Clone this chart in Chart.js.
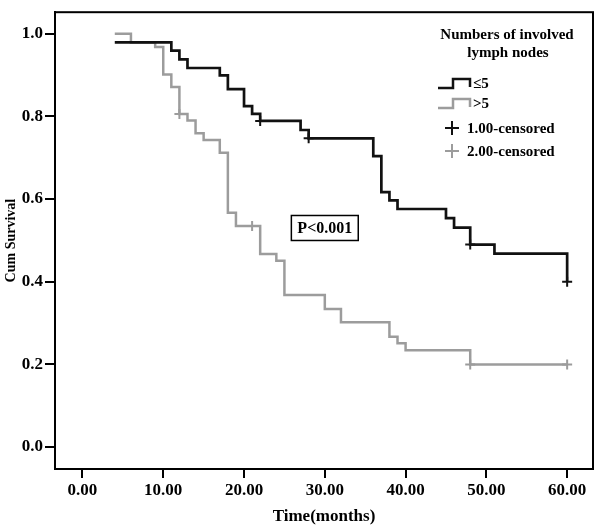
<!DOCTYPE html>
<html>
<head>
<meta charset="utf-8">
<script src="https://cdn.jsdelivr.net/npm/chart.js@4.4.1/dist/chart.umd.min.js"></script>
<style>
  html, body { margin: 0; padding: 0; background: #fff; }
  #wrap { width: 600px; height: 531px; }
</style>
</head>
<body>
<div id="wrap"><canvas id="kmChart" width="600" height="531"></canvas></div>
<script>
// ── data ──
// group 1 (≤5 nodes): month where the step starts and survival after it
const monthsLow = [4, 11, 12, 13, 17, 18, 20, 21, 22, 27, 28, 36, 37, 38, 39, 45, 46, 48, 51, 60];
const survivalLow = [0.979, 0.959, 0.938, 0.917, 0.899, 0.866, 0.825, 0.806, 0.789, 0.767, 0.747, 0.704, 0.617, 0.597, 0.576, 0.554, 0.531, 0.490, 0.468, 0.400];
const censorMonthsLow = [22, 28, 48, 60];
const censorSurvLow = [0.789, 0.747, 0.490, 0.400];

// group 2 (>5 nodes)
const monthsHigh = [4, 6, 9, 10, 11, 12, 13, 14, 15, 17, 18, 19, 22, 24, 25, 30, 32, 38, 39, 40, 48, 60];
const survivalHigh = [1.0, 0.979, 0.968, 0.901, 0.871, 0.806, 0.790, 0.759, 0.743, 0.712, 0.567, 0.535, 0.467, 0.451, 0.368, 0.334, 0.302, 0.267, 0.251, 0.234, 0.200, 0.200];
const censorMonthsHigh = [12, 21, 48, 60];
const censorSurvHigh = [0.806, 0.535, 0.200, 0.200];

const xTicks = [0, 10, 20, 30, 40, 50, 60];
const yTicks = [0, 0.2, 0.4, 0.6, 0.8, 1.0];
const legendTitle = ['Numbers of involved', 'lymph nodes'];
const legendLabels = ['≤5', '>5', '1.00-censored', '2.00-censored'];
const pValueText = 'P<0.001';

const BLACK = '#111111';
const GRAY = '#9c9c9c';
const SERIF = '"Liberation Serif", "DejaVu Serif", serif';

const toPoints = (xs, ys) => xs.map((x, i) => ({ x: x, y: ys[i] }));

// frame + p-value box + legend
const decorPlugin = {
  id: 'decor',
  afterDraw(chart) {
    const { ctx, chartArea: { left, right, top, bottom } } = chart;
    const xs = chart.scales.x, ys = chart.scales.y;
    ctx.save();

    // box around the plot
    ctx.strokeStyle = '#000';
    ctx.lineWidth = 2;
    ctx.strokeRect(left, top, right - left, bottom - top);

    // P value box
    const px = xs.getPixelForValue(30);
    const py = ys.getPixelForValue(0.53);
    ctx.font = 'bold 16px ' + SERIF;
    ctx.textAlign = 'center';
    ctx.textBaseline = 'middle';
    const w = ctx.measureText(pValueText).width + 12;
    ctx.lineWidth = 1.5;
    ctx.strokeRect(px - w / 2, py - 12.5, w, 25);
    ctx.fillStyle = '#000';
    ctx.fillText(pValueText, px, py + 1);

    // legend
    ctx.font = 'bold 15px ' + SERIF;
    ctx.fillText(legendTitle[0], 507, 35);
    ctx.fillText(legendTitle[1], 508, 53);

    const drawStep = (y, color) => {
      ctx.strokeStyle = color;
      ctx.lineWidth = 2.5;
      ctx.beginPath();
      ctx.moveTo(438, y + 5);
      ctx.lineTo(453, y + 5);
      ctx.lineTo(453, y - 4);
      ctx.lineTo(470, y - 4);
      ctx.lineTo(470, y + 4);
      ctx.stroke();
    };
    const drawCross = (y, color) => {
      ctx.strokeStyle = color;
      ctx.lineWidth = 2;
      ctx.beginPath();
      ctx.moveTo(445, y); ctx.lineTo(459, y);
      ctx.moveTo(452, y - 7); ctx.lineTo(452, y + 7);
      ctx.stroke();
    };
    drawStep(83, BLACK);
    drawStep(103, GRAY);
    drawCross(128, BLACK);
    drawCross(151, GRAY);

    ctx.textAlign = 'left';
    ctx.fillStyle = '#000';
    ctx.fillText(legendLabels[0], 473, 84);
    ctx.fillText(legendLabels[1], 473, 104);
    ctx.fillText(legendLabels[2], 467, 129);
    ctx.fillText(legendLabels[3], 467, 152);

    ctx.restore();
  }
};

const tickFont = { family: SERIF, size: 17, weight: 'bold' };

new Chart(document.getElementById('kmChart').getContext('2d'), {
  type: 'line',
  data: {
    datasets: [
      { data: toPoints(monthsLow, survivalLow), borderColor: BLACK, borderWidth: 2.7, stepped: 'before', pointRadius: 0, fill: false },
      { data: toPoints(monthsHigh, survivalHigh), borderColor: GRAY, borderWidth: 2.5, stepped: 'before', pointRadius: 0, fill: false },
      { type: 'scatter', data: toPoints(censorMonthsLow, censorSurvLow), pointStyle: 'cross', pointRadius: 5, borderColor: BLACK, borderWidth: 2 },
      { type: 'scatter', data: toPoints(censorMonthsHigh, censorSurvHigh), pointStyle: 'cross', pointRadius: 5, borderColor: GRAY, borderWidth: 2 }
    ]
  },
  options: {
    responsive: false,
    animation: false,
    layout: { padding: { top: 3, right: 4.5, left: 0, bottom: 0 } },
    plugins: { legend: { display: false }, tooltip: { enabled: false } },
    scales: {
      x: {
        type: 'linear',
        min: -3.4,
        max: 63.2,
        afterBuildTicks: s => { s.ticks = xTicks.map(v => ({ value: v })); },
        afterFit: s => { s.height = 62; },
        ticks: { callback: v => v.toFixed(2), font: tickFont, color: '#000', padding: 2, maxRotation: 0 },
        grid: { drawOnChartArea: false, tickLength: 9, color: '#000', lineWidth: 2 },
        border: { color: '#000', width: 2 },
        title: { display: true, text: 'Time(months)', font: { family: SERIF, size: 17, weight: 'bold' }, color: '#000', padding: { top: 0, bottom: 4 } }
      },
      y: {
        type: 'linear',
        min: -0.053,
        max: 1.052,
        afterBuildTicks: s => { s.ticks = yTicks.map(v => ({ value: v })); },
        afterFit: s => { s.width = 55; },
        ticks: { callback: v => v.toFixed(1), font: tickFont, color: '#000', padding: 2 },
        grid: { drawOnChartArea: false, tickLength: 10, color: '#000', lineWidth: 2 },
        border: { color: '#000', width: 2 },
        title: { display: true, text: 'Cum Survival', font: { family: SERIF, size: 14, weight: 'bold' }, color: '#000', padding: { top: 3, bottom: 0 } }
      }
    }
  },
  plugins: [decorPlugin]
});
</script>
</body>
</html>
